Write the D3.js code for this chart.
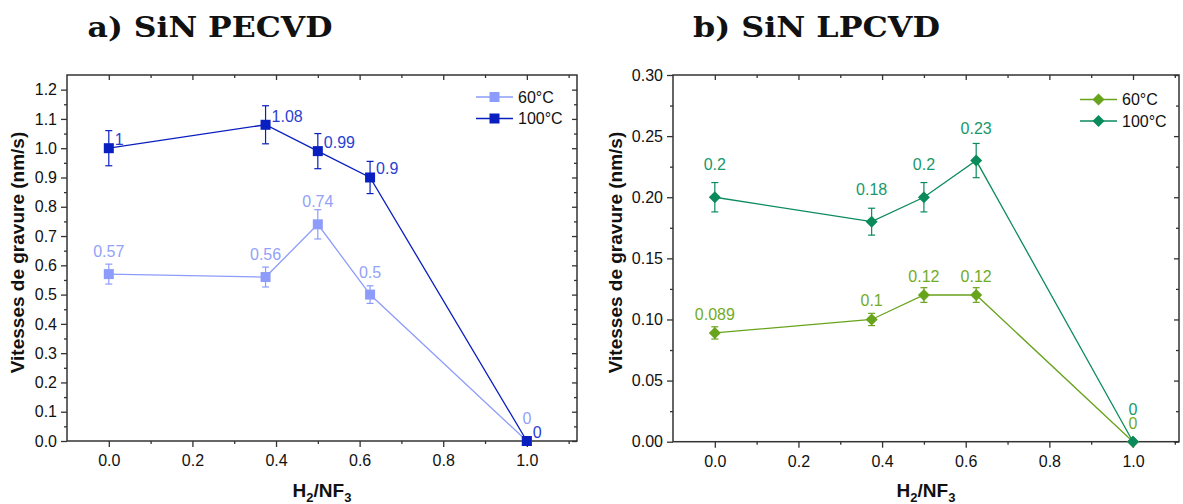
<!DOCTYPE html>
<html>
<head>
<meta charset="utf-8">
<script src="https://cdn.jsdelivr.net/npm/d3@7"></script>
<style>
  html, body { margin: 0; padding: 0; background: #fff; }
  svg { display: block; }
</style>
</head>
<body>
<svg id="chart" width="1183" height="504"></svg>
<script>
// ---------- DATA ----------
const ratios = [0, 0.375, 0.5, 0.625, 1.0];           // H2/NF3
const seriesNames = ["60°C", "100°C"];

const pecvd60 = [0.57, 0.56, 0.74, 0.5, 0];
const pecvd60Err = [0.034, 0.034, 0.05, 0.03, 0];
const pecvd100 = [1, 1.08, 0.99, 0.9, 0];
const pecvd100Err = [0.06, 0.065, 0.06, 0.055, 0];

const lpcvd60 = [0.089, 0.1, 0.12, 0.12, 0];
const lpcvd60Err = [0.005, 0.005, 0.006, 0.006, 0];
const lpcvd100 = [0.2, 0.18, 0.2, 0.23, 0];
const lpcvd100Err = [0.012, 0.011, 0.012, 0.014, 0];

const xTicks = [0, 0.2, 0.4, 0.6, 0.8, 1.0];
const xMinorTicks = [-0.1, 0.1, 0.3, 0.5, 0.7, 0.9, 1.1];
const pecvdYTicks = [0, 0.1, 0.2, 0.3, 0.4, 0.5, 0.6, 0.7, 0.8, 0.9, 1.0, 1.1, 1.2];
const pecvdYMinor = [0.05, 0.15, 0.25, 0.35, 0.45, 0.55, 0.65, 0.75, 0.85, 0.95, 1.05, 1.15];
const lpcvdYTicks = [0, 0.05, 0.10, 0.15, 0.20, 0.25, 0.30];
const lpcvdYMinor = [0.025, 0.075, 0.125, 0.175, 0.225, 0.275];

const titles = ["a) SiN PECVD", "b) SiN LPCVD"];
const yTitle = "Vitesses de gravure (nm/s)";

// ---------- DRAW ----------
const svg = d3.select("#chart");
const FONT = "Liberation Sans, Arial, sans-serif";
const AXIS = "#333";

function panel(cfg) {
  const x = d3.scaleLinear().domain(cfg.xDomain).range([cfg.left, cfg.right]);
  const y = d3.scaleLinear().domain(cfg.yDomain).range([cfg.bottom, cfg.top]);
  const g = svg.append("g");

  // title
  svg.append("text").attr("x", cfg.titleX).attr("y", 37)
    .attr("text-anchor", "middle")
    .attr("textLength", cfg.titleW).attr("lengthAdjust", "spacingAndGlyphs")
    .style("font-family", "DejaVu Serif, serif").style("font-weight", "bold")
    .style("font-size", "27px").attr("fill", "#111").text(cfg.title);

  function styleAxis(sel) {
    sel.select(".domain").remove();
    sel.selectAll(".tick line").attr("stroke", AXIS).attr("stroke-width", 1.3);
    sel.selectAll(".tick text").style("font-family", FONT).style("font-size", "16px").attr("fill", "#111");
  }
  const minorX = xMinorTicks.filter(v => v > cfg.xDomain[0] && v < cfg.xDomain[1]);
  // bottom
  g.append("g").attr("transform", `translate(0,${cfg.bottom})`)
    .call(d3.axisBottom(x).tickValues(xTicks).tickFormat(d3.format(".1f")).tickSize(6).tickPadding(7.5))
    .call(styleAxis);
  g.append("g").attr("transform", `translate(0,${cfg.bottom})`)
    .call(d3.axisBottom(x).tickValues(minorX).tickFormat("").tickSize(3))
    .call(styleAxis);
  // top (inward)
  g.append("g").attr("transform", `translate(0,${cfg.top})`)
    .call(d3.axisTop(x).tickValues(xTicks).tickFormat("").tickSize(-5))
    .call(styleAxis);
  g.append("g").attr("transform", `translate(0,${cfg.top})`)
    .call(d3.axisTop(x).tickValues(minorX).tickFormat("").tickSize(-3))
    .call(styleAxis);
  // left
  g.append("g").attr("transform", `translate(${cfg.left},0)`)
    .call(d3.axisLeft(y).tickValues(cfg.yTicks).tickFormat(d3.format(cfg.yFormat)).tickSize(6).tickPadding(4))
    .call(styleAxis);
  g.append("g").attr("transform", `translate(${cfg.left},0)`)
    .call(d3.axisLeft(y).tickValues(cfg.yMinor).tickFormat("").tickSize(3))
    .call(styleAxis);
  // right (inward)
  g.append("g").attr("transform", `translate(${cfg.right},0)`)
    .call(d3.axisRight(y).tickValues(cfg.yTicks).tickFormat("").tickSize(-5))
    .call(styleAxis);
  g.append("g").attr("transform", `translate(${cfg.right},0)`)
    .call(d3.axisRight(y).tickValues(cfg.yMinor).tickFormat("").tickSize(-3))
    .call(styleAxis);

  // frame
  g.append("rect").attr("x", cfg.left).attr("y", cfg.top)
    .attr("width", cfg.right - cfg.left).attr("height", cfg.bottom - cfg.top)
    .attr("fill", "none").attr("stroke", AXIS).attr("stroke-width", 1.5);

  // axis titles
  const xt = svg.append("text").attr("x", (cfg.left + cfg.right) / 2).attr("y", 497)
    .attr("text-anchor", "middle").style("font-family", FONT).style("font-weight", "bold")
    .style("font-size", "19px").attr("fill", "#111");
  xt.append("tspan").text("H");
  xt.append("tspan").attr("dy", 5).style("font-size", "13px").text("2");
  xt.append("tspan").attr("dy", -5).text("/NF");
  xt.append("tspan").attr("dy", 5).style("font-size", "13px").text("3");

  svg.append("text").attr("transform", `translate(${cfg.yTitleX},${cfg.yTitleY}) rotate(-90)`)
    .attr("text-anchor", "middle").attr("dominant-baseline", "central")
    .style("font-family", FONT).style("font-weight", "bold").style("font-size", "19px")
    .attr("fill", "#111").text(yTitle);

  const line = d3.line().x((d, i) => x(ratios[i])).y(d => y(d));

  cfg.series.forEach((s) => {
    const sg = g.append("g");
    sg.append("path").datum(s.values).attr("d", line)
      .attr("fill", "none").attr("stroke", s.color).attr("stroke-width", 1.3);
    // error bars
    s.values.forEach((v, i) => {
      const e = s.err[i];
      if (!e) return;
      const cx = x(ratios[i]);
      sg.append("line").attr("x1", cx).attr("x2", cx).attr("y1", y(v - e)).attr("y2", y(v + e))
        .attr("stroke", s.color).attr("stroke-width", 1.2);
      [v - e, v + e].forEach(w => {
        sg.append("line").attr("x1", cx - 3.5).attr("x2", cx + 3.5).attr("y1", y(w)).attr("y2", y(w))
          .attr("stroke", s.color).attr("stroke-width", 1.2);
      });
    });
    // markers
    s.values.forEach((v, i) => drawMarker(sg, cfg.marker, x(ratios[i]), y(v), s.color));
    // labels
    s.values.forEach((v, i) => {
      sg.append("text").attr("x", x(ratios[i]) + s.lab.dx).attr("y", y(v) + s.lab.dy)
        .attr("text-anchor", s.lab.anchor)
        .style("font-family", FONT).style("font-size", "16px")
        .attr("fill", s.labelColor).text(String(v));
    });
  });

  // legend
  cfg.series.forEach((s, k) => {
    const ly = cfg.legend.y + k * cfg.legend.dy;
    g.append("line").attr("x1", cfg.legend.x).attr("x2", cfg.legend.x + 37)
      .attr("y1", ly).attr("y2", ly).attr("stroke", s.color).attr("stroke-width", 1.3);
    drawMarker(g, cfg.marker, cfg.legend.x + 18.5, ly, s.color);
    g.append("text").attr("x", cfg.legend.x + 42).attr("y", ly)
      .attr("dominant-baseline", "central")
      .style("font-family", FONT).style("font-size", "16px").attr("fill", "#111")
      .text(seriesNames[k]);
  });
}

function drawMarker(g, type, cx, cy, color) {
  if (type === "square") {
    g.append("rect").attr("x", cx - 5).attr("y", cy - 5).attr("width", 10).attr("height", 10)
      .attr("fill", color);
  } else {
    const r = 6;
    g.append("path").attr("d", `M${cx},${cy - r}L${cx + r},${cy}L${cx},${cy + r}L${cx - r},${cy}Z`)
      .attr("fill", color);
  }
}

panel({
  title: titles[0], titleX: 210, titleW: 245,
  left: 67, right: 577, top: 75, bottom: 441,
  xDomain: [-0.1, 1.12], yDomain: [0, 1.25],
  yTicks: pecvdYTicks, yMinor: pecvdYMinor, yFormat: ".1f",
  yTitleX: 17, yTitleY: 252.5, marker: "square",
  legend: { x: 476, y: 97, dy: 21.5 },
  series: [
    { values: pecvd60, err: pecvd60Err, color: "#8d9cfa", labelColor: "#93a2f8",
      lab: { dx: 0, dy: -17, anchor: "middle" } },
    { values: pecvd100, err: pecvd100Err, color: "#0a1fc0", labelColor: "#2a3fd2",
      lab: { dx: 6, dy: -3, anchor: "start" } }
  ]
});

panel({
  title: titles[1], titleX: 816.5, titleW: 247,
  left: 673, right: 1179, top: 75, bottom: 441.7,
  xDomain: [-0.1, 1.11], yDomain: [0, 0.30],
  yTicks: lpcvdYTicks, yMinor: lpcvdYMinor, yFormat: ".2f",
  yTitleX: 615, yTitleY: 252.5, marker: "diamond",
  legend: { x: 1080, y: 99.5, dy: 21.5 },
  series: [
    { values: lpcvd60, err: lpcvd60Err, color: "#68a31c", labelColor: "#72ab26",
      lab: { dx: 0, dy: -13, anchor: "middle" } },
    { values: lpcvd100, err: lpcvd100Err, color: "#0b8b5c", labelColor: "#17996b",
      lab: { dx: 0, dy: -27, anchor: "middle" } }
  ]
});
</script>
</body>
</html>
